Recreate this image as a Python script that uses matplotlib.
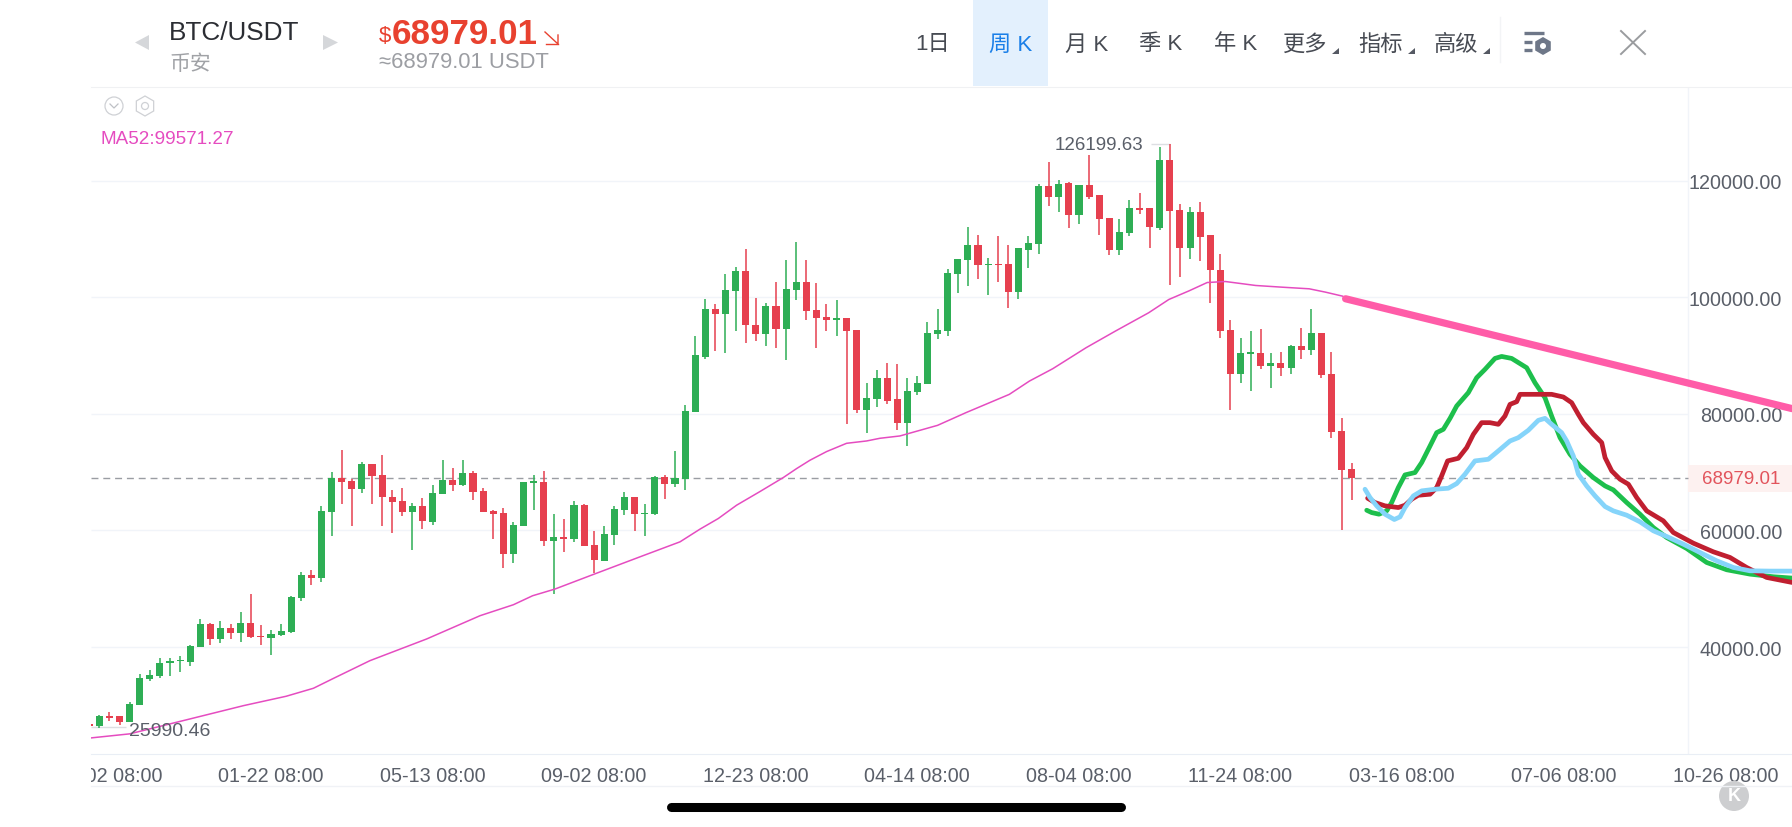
import numpy as np
import matplotlib
matplotlib.use("Agg")
import matplotlib.pyplot as plt
from matplotlib.patches import Polygon, Circle, RegularPolygon, Rectangle
from matplotlib.transforms import Bbox

plt.rcParams['font.family'] = ['Liberation Sans', 'Noto Sans CJK SC', 'DejaVu Sans']

# weekly candles, first one is cut by the left edge
opens = [26810, 26410, 28180, 28180, 27210, 30060, 34520, 35030, 37260, 37540,
         37490, 40060, 44000, 41370, 43200, 42340, 44110, 41940, 41600, 42060,
         42630, 48340, 52390, 51760, 63180, 69060, 68550, 67180, 71460, 69460,
         65810, 65120, 63130, 64150, 61470, 66270, 68660, 67750, 69810, 66840,
         63350, 62900, 55870, 60780, 68200, 68380, 58160, 58840, 58440, 64380,
         57470, 54790, 59180, 63520, 65750, 62840, 62780, 69120, 67980, 68780,
         80310, 89730, 98010, 97100, 101040, 104520, 95270, 93610, 98410, 94470,
         101210, 102690, 97840, 96530, 96070, 96350, 94410, 80650, 82480, 86190,
         82480, 78370, 83680, 85110, 93610, 94130, 104010, 106350, 109030, 105550,
         105780, 105660, 100870, 108170, 109090, 119140, 117140, 119540, 114060, 119310,
         117480, 113600, 108120, 111030, 115370, 115250, 111940, 123480, 115030, 108520,
         114570, 110630, 104750, 94360, 86770, 90250, 90480, 88140, 88710, 87910,
         91620, 90930, 93790, 86770, 77060, 70490]
highs = [26810, 28350, 28810, 28240, 30520, 35370, 36120, 38060, 38060, 38520,
         40400, 44740, 44050, 44510, 43880, 46000, 49080, 43710, 42910, 44000,
         48680, 52900, 53130, 64100, 70030, 73860, 68890, 71750, 71460, 72890,
         66890, 67290, 64780, 65520, 67750, 72030, 70780, 72090, 70210, 67350,
         63470, 63920, 61470, 68380, 69460, 70150, 62780, 61920, 65060, 64550,
         59930, 60670, 64150, 66550, 65750, 64550, 69350, 69520, 73630, 81570,
         93270, 99610, 98870, 104010, 105200, 108350, 99890, 98920, 102690, 106400,
         109490, 106400, 102460, 98810, 99500, 96470, 94410, 85330, 87450, 88760,
         88530, 86080, 86480, 95730, 97900, 104920, 106630, 112000, 110690, 106750,
         110570, 108920, 108460, 110460, 119420, 123130, 120160, 119770, 119310, 124390,
         117480, 113600, 113370, 116630, 117880, 115310, 125700, 126199.63, 115940, 115430,
         116400, 110690, 107430, 96010, 93050, 94130, 94590, 90360, 90650, 91850,
         94760, 97900, 93850, 90650, 79340, 71520]
lows = [26400, 26180, 27270, 26700, 27100, 30010, 34180, 34690, 34980, 35770,
        36800, 40060, 40340, 40690, 41370, 40910, 41600, 40400, 38690, 41940,
        42460, 47820, 50620, 51080, 59070, 64610, 60840, 66490, 64610, 60730,
        59640, 62500, 56670, 60270, 60900, 66210, 66720, 67690, 65180, 63180,
        58500, 53530, 54390, 60780, 63520, 57240, 49130, 56210, 57930, 57300,
        52670, 54730, 57530, 62670, 59870, 59070, 62610, 65350, 67520, 66950,
        80250, 89390, 90820, 90470, 94130, 92190, 92530, 91560, 91220, 89270,
        99500, 96130, 91220, 94130, 93390, 78310, 80080, 76650, 81170, 81620,
        77170, 74540, 83220, 85110, 92810, 93330, 100690, 101950, 103040, 100350,
        102580, 98180, 99610, 105030, 107370, 115650, 114680, 111890, 112570, 116850,
        110630, 107320, 107200, 110570, 114340, 108520, 111490, 102010, 103490, 106630,
        106230, 98980, 93040, 80660, 85280, 83910, 87620, 84480, 86480, 86820,
        89340, 90140, 86080, 75800, 60100, 65240]
closes = [26410, 28240, 27890, 27210, 30240, 34750, 35200, 37320, 37600, 37770,
          40230, 44000, 41370, 43200, 42340, 44110, 41770, 41660, 42280, 42800,
          48570, 52330, 51760, 63300, 69060, 68380, 67180, 71400, 69350, 65700,
          64950, 63130, 64210, 61530, 66440, 68610, 67810, 69810, 66670, 63180,
          62780, 55870, 60950, 68320, 68430, 58160, 58840, 58500, 64380, 57300,
          54840, 59300, 63750, 65750, 62780, 63010, 69180, 67980, 68950, 80420,
          90020, 98010, 97100, 101210, 104520, 95160, 93610, 98410, 94470, 101380,
          102690, 97610, 96350, 96010, 96350, 94180, 80600, 82650, 86190, 82250,
          78370, 83850, 85280, 93840, 94360, 104180, 106520, 109030, 105550, 105780,
          105490, 100870, 108400, 109260, 119140, 117140, 119480, 114060, 119310, 117250,
          113370, 108120, 111200, 115310, 114970, 112060, 123480, 114860, 108520, 114570,
          110400, 104580, 94180, 86770, 90420, 90540, 88140, 88710, 87910, 91680,
          90930, 93790, 86600, 76950, 70320, 68979.01]

# MA52
ma_x = [-0.8, 3, 9, 14.3, 18.5, 21.2, 23.2, 26.8, 32.4, 37.7, 41, 42.9, 45.1, 49, 53.8, 57.5, 59.47,
        61.29, 63.1, 65.41, 67.72, 69.04, 70.36, 72.01, 73.99, 75.97, 77.29, 79.27, 83, 85.8, 90.1, 92.1,
        94.4, 97.7, 100.6, 103.9, 105.9, 107.9, 109.7, 111.5, 114.5, 117.1, 119.8, 121.4, 123.1]
ma_y = [24410, 25100, 27670, 29950, 31550, 32920, 34630, 37660, 41370, 45370, 47250, 48790, 49930,
        52500, 55640, 58040, 60210, 62040, 64320, 66660, 69060, 70600, 72030, 73520, 74940, 75340,
        75800, 76200, 78020, 80190, 83330, 85620, 87730, 91330, 94180, 97330, 99610, 101090, 102520,
        102690, 102010, 101720, 101440, 100870, 100180]

# hand drawn forecast lines
pink_x = [123.4, 167.6]
pink_y = [99730, 80890]

green_x = [125.49, 125.98, 126.71, 127.47, 127.96, 128.62, 129.28, 130.27, 130.93, 131.76, 132.42, 133.08,
           133.74, 134.4, 135.55, 136.38, 137.2, 138.19, 138.85, 139.84, 141.33, 142.15, 143.14, 143.8,
           144.63, 145.62, 146.61, 147.93, 149.09, 149.91, 151.23, 152.55, 153.87, 155.19, 157.17, 159.15,
           161.13, 163.44, 165.75, 167.6]
green_y = [63460, 63060, 62780, 63350, 64780, 67350, 69520, 69920, 71630, 74480, 76770, 77340,
           79220, 81340, 83620, 86190, 87620, 89500, 89840, 89500, 87900, 85330, 82760, 79620,
           75910, 73060, 71060, 69060, 67630, 66950, 64780, 62780, 60500, 58780, 56900, 54500,
           53250, 52500, 52050, 51820]

red_x = [125.58, 126.31, 127.3, 128.62, 129.28, 129.94, 130.6, 131.76, 132.42, 132.91, 133.5, 134.56,
         135.39, 136.05, 136.87, 137.7, 138.52, 139.18, 139.68, 140.34, 140.67, 142.15, 143.8, 144.96,
         145.78, 146.44, 146.94, 147.93, 148.76, 149.09, 149.75, 150.57, 151.4, 152.22, 153.21, 154.86,
         155.85, 157.83, 159.81, 161.46, 163.11, 165.09, 167.6]
red_y = [65520, 64780, 64210, 63920, 64320, 65350, 66030, 66210, 67350, 69350, 71920, 72370,
         74200, 76480, 78480, 78480, 78200, 79620, 81620, 82080, 83340, 83340, 83340, 82880,
         81910, 79910, 78480, 76480, 75060, 72490, 70200, 68780, 67920, 65640, 63350, 61640,
         59640, 57810, 56330, 55360, 53640, 51930, 51075]

blue_x = [125.32, 125.82, 126.48, 127.3, 128.22, 128.79, 129.28, 130.11, 130.93, 132.25, 133.57, 134.4,
          135.22, 136.21, 137.53, 138.52, 139.68, 140.5, 141.49, 142.48, 143.14, 143.8, 144.79, 145.29,
          145.95, 146.45, 147.27, 148.1, 149.09, 149.91, 151.23, 152.55, 153.87, 155.19, 156.84, 158.49,
          160.14, 161.79, 163.44, 165.42, 167.6]
blue_y = [67060, 65630, 64210, 62780, 61870, 62320, 63920, 65920, 66780, 67060, 67230, 68030,
          69630, 71920, 72200, 73630, 75340, 75910, 77170, 78880, 79220, 78200, 76770, 75340,
          72770, 69630, 67630, 65920, 64090, 63350, 62610, 61470, 59930, 58960, 57640, 56210,
          54790, 53640, 53070, 53020, 53020]

y_ticks = [40000, 60000, 80000, 100000, 120000]
x_tick_pos = [1, 17, 33, 49, 65, 81, 97, 113, 129, 145, 161]
x_tick_labels = ['10-02 08:00', '01-22 08:00', '05-13 08:00', '09-02 08:00', '12-23 08:00', '04-14 08:00',
                 '08-04 08:00', '11-24 08:00', '03-16 08:00', '07-06 08:00', '10-26 08:00']
last_price = 68979.01
max_label = 126199.63
min_label = 25990.46

GREEN = '#2EAE55'
RED = '#E6404F'
GRID = '#F1F4F9'
TEXT = '#5A5F69'

W, H = 1792, 828
fig = plt.figure(figsize=(W / 100, H / 100), dpi=100, facecolor='white')
ax = fig.add_axes([91 / W, 1 - 755 / H, (W - 91) / W, (755 - 88) / H])
ax.set_xlim(-0.822, 167.6)
ax.set_ylim(21647, 136055)
ax.set_axisbelow(True)
axis_x = 157.3

for s in ['left', 'right']:
    ax.spines[s].set_visible(False)
ax.spines['top'].set_color('#F0F1F3')
ax.spines['bottom'].set_color('#E9EEF5')

ax.set_yticks(y_ticks)
ax.set_yticklabels(['%.2f' % v for v in y_ticks], ha='right', color=TEXT, fontsize=14.2)
ax.tick_params(axis='y', length=0, left=False, labelleft=False, right=False, labelright=True, pad=-7.2)
ax.set_xticks(x_tick_pos)
ax.set_xticklabels(x_tick_labels, color=TEXT, fontsize=14.2)
ax.tick_params(axis='x', length=0, pad=9)
for lbl in ax.get_xticklabels():
    lbl.set_clip_box(Bbox([[91, 0], [W, H]]))
    lbl.set_clip_on(True)

ax.hlines(y_ticks, -0.822, axis_x, color=GRID, lw=1, zorder=1)
ax.axvline(axis_x, color=GRID, lw=1, zorder=1)
ax.hlines(last_price, -0.822, axis_x, color='#9A9DA3', lw=1, linestyles=(0, (5, 3.5)), zorder=1.5)

# last price tag
ax.axhspan(last_price - 2310, last_price + 2310, xmin=(1688 - 91) / (W - 91), xmax=1, color='#FDF1F0', lw=0, zorder=1)
ax.annotate('68979.01', xy=(1, last_price), xycoords=('axes fraction', 'data'), xytext=(-8.6, 0),
            textcoords='offset points', ha='right', va='center', color='#E2545C', fontsize=13.5)

# candles
idx = np.arange(-1, len(opens) - 1)
o = np.array(opens)
c = np.array(closes)
colors = [GREEN if cl >= op else RED for op, cl in zip(o, c)]
ax.vlines(idx, lows, highs, colors=colors, lw=1.1, zorder=3)
ax.bar(idx, np.maximum(np.abs(c - o), 150), bottom=np.minimum(o, c), width=0.7, color=colors, lw=0, zorder=3)

ax.plot(ma_x, ma_y, color='#E54CC0', lw=1.1, zorder=4)

ax.plot(pink_x, pink_y, color='#FF5CA8', lw=5.2, solid_capstyle='round', zorder=5)
ax.plot(green_x, green_y, color='#1DBF4C', lw=3.4, solid_capstyle='round', solid_joinstyle='round', zorder=6)
ax.plot(red_x, red_y, color='#C01F30', lw=3.4, solid_capstyle='round', solid_joinstyle='round', zorder=7)
ax.plot(blue_x, blue_y, color='#85D4FA', lw=3.4, solid_capstyle='round', solid_joinstyle='round', zorder=8)

# max / min labels
ax.hlines(max_label, 104.1, 106, color='#DDDFE3', lw=1, zorder=2)
ax.annotate('%.2f' % max_label, xy=(104.1, max_label), xytext=(-5, 0), textcoords='offset points',
            ha='right', va='center', color=TEXT, fontsize=13.5, zorder=9)
ax.hlines(26250, -0.8, 2.6, color='#DDDFE3', lw=1, zorder=2)
ax.annotate('%.2f' % min_label, xy=(2.9, min_label), xytext=(0, -1), textcoords='offset points',
            ha='left', va='center', color=TEXT, fontsize=14, zorder=9)

# app chrome, in pixels
hd = fig.add_axes([0, 0, 1, 1], zorder=10)
hd.set_xlim(0, W)
hd.set_ylim(H, 0)
hd.axis('off')
hd.patch.set_alpha(0)

hd.add_patch(Polygon([[149, 36], [135, 43.5], [149, 51]], color='#D5D7DA', lw=0))
hd.add_patch(Polygon([[323, 36], [338, 43.5], [323, 51]], color='#D5D7DA', lw=0))
hd.text(169, 33, 'BTC/USDT', fontsize=18.8, color='#2B2D33', va='center', ha='left')
hd.text(169, 64, '币安', fontsize=15, color='#A0A2A6', va='center', ha='left')
hd.text(379, 37, '$', fontsize=16, color='#E8412F', va='center', ha='left')
hd.text(392, 34, '68979.01', fontsize=25.2, fontweight='bold', color='#E8412F', va='center', ha='left')
hd.plot([545, 558, 558], [33, 45, 36], color='#E8412F', lw=1)
hd.plot([546, 558], [45, 45], color='#E8412F', lw=1)
hd.text(379, 63, '≈68979.01 USDT', fontsize=15.8, color='#9C9EA3', va='center', ha='left')

hd.add_patch(Rectangle((973, 0), 75, 87, color='#E3F0FD', lw=0))
tabs = ['1日', '周 K', '月 K', '季 K', '年 K', '更多', '指标', '高级']
tab_x = [933, 1011, 1087, 1161, 1236, 1305, 1381, 1456]
for t, tx in zip(tabs, tab_x):
    col = '#1A7FE8' if t == '周 K' else '#474B53'
    hd.text(tx, 45, t, fontsize=16, color=col, va='center', ha='center')
for tx in [1332, 1408, 1483]:
    hd.add_patch(Polygon([[tx, 55], [tx + 7, 55], [tx + 7, 49]], color='#555963', lw=0))
hd.plot([1500, 1500], [18, 63], color='#F3F4F6', lw=1)

for by, bx1 in [(34, 1544), (43, 1532), (51, 1532)]:
    hd.plot([1524, bx1], [by, by], color='#6E7788', lw=2.4, solid_capstyle='butt')
hd.add_patch(RegularPolygon((1543, 47), 6, radius=9, facecolor='#6E7788', edgecolor='none'))
hd.add_patch(Circle((1543, 47), 3, color='white', lw=0))
hd.plot([1621, 1645], [32, 55], color='#9A9C9F', lw=1.4)
hd.plot([1645, 1621], [32, 55], color='#9A9C9F', lw=1.4)

hd.add_patch(Circle((114, 107), 9, facecolor='white', edgecolor='#CFD1D5', lw=0.9))
hd.plot([110, 114, 118], [105, 109, 105], color='#BFC1C6', lw=0.9)
hd.add_patch(RegularPolygon((145, 107), 6, radius=10, facecolor='white', edgecolor='#CFD1D5', lw=0.9))
hd.add_patch(Circle((145, 107), 3.5, facecolor='white', edgecolor='#CFD1D5', lw=0.9))
hd.text(100, 139, 'MA52:99571.27', fontsize=13.6, color='#E54CC0', va='center', ha='left')

hd.plot([91, W], [787, 787], color='#F0F2F6', lw=1)
hd.plot([671, 1121], [808, 808], color='black', lw=6.5, solid_capstyle='round')
hd.add_patch(Circle((1734, 797), 15, color='#CDCED0', lw=0))
hd.text(1734, 797, 'K', fontsize=13, fontweight='bold', color='white', va='center', ha='center')

fig.savefig('out.png', dpi=100)
